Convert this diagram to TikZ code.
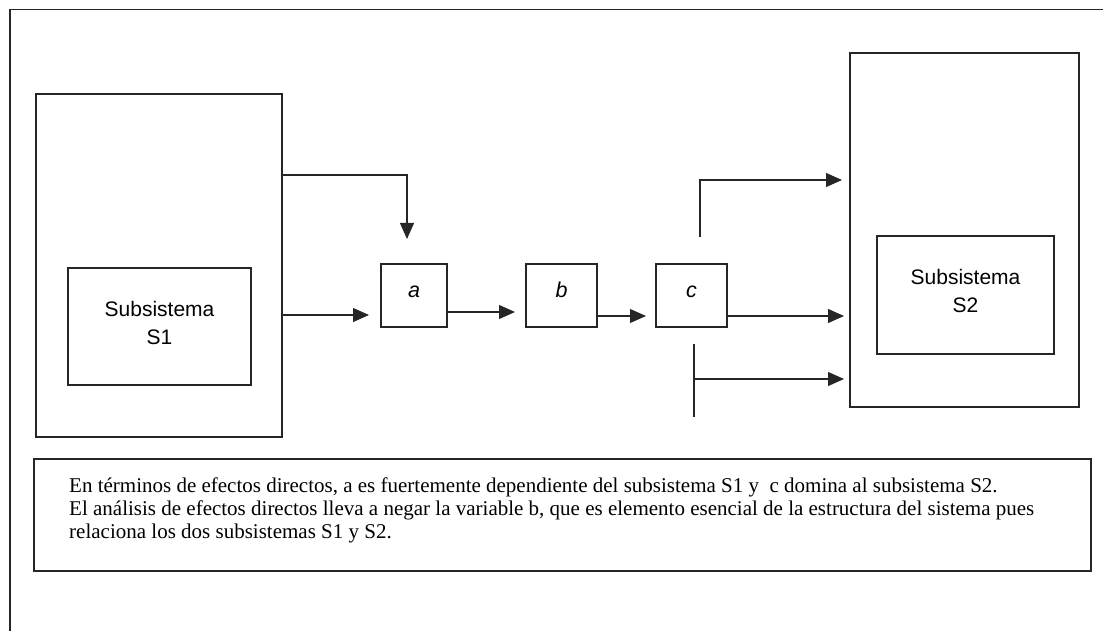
\documentclass[tikz,border=0pt]{standalone}
\usepackage{fontspec}
\setmainfont{Liberation Serif}
\newfontfamily\arialf{Liberation Sans}
\usetikzlibrary{arrows.meta,calc}
\begin{document}
\begin{tikzpicture}[x=1pt,y=-1pt,
  ln/.style={line width=1.1pt, draw=black!85},
  box/.style={ln, rectangle, inner sep=0pt, outer sep=0pt, align=center,
    font=\arialf\fontsize{21}{28}\selectfont},
  subbox/.style={box, text depth=8pt},
  varbox/.style={box, font=\arialf\itshape\fontsize{21.5}{25}\selectfont, text height=10pt, text depth=7pt},
  arr/.style={ln, -{Triangle[length=16pt,width=14pt]}},
  note/.style={anchor=north west, inner sep=0pt, align=left,
    font=\fontsize{21}{23}\selectfont},
]
\useasboundingbox (0,0) rectangle (1103,631);
% outer frame
\coordinate (fbl) at (10,631);
\coordinate (ftl) at (10,9.5);
\coordinate (ftr) at (1103,9.5);
\draw[ln] (fbl) -- (ftl) -- (ftr);

\node[box, minimum width=246pt, minimum height=343pt] (S1big) at (159,265.5) {};
\node[subbox, minimum width=183pt, minimum height=117pt] (S1in) at (159.5,326.5) {Subsistema\\S1};
\node[varbox, minimum width=66pt, minimum height=63pt] (a) at (414,295.5) {a};
\node[varbox, minimum width=71pt, minimum height=63pt] (b) at (561.5,295.5) {b};
\node[varbox, minimum width=71pt, minimum height=63pt] (c) at (691.5,295.5) {c};
\node[box, minimum width=229pt, minimum height=354pt] (S2big) at (964.5,230) {};
\node[subbox, minimum width=177pt, minimum height=118pt] (S2in) at (965.5,295) {Subsistema\\S2};
\node[box, minimum width=1057pt, minimum height=112pt] (notebox) at (562.5,515) {};

% arrows
\coordinate (k1) at (0,175);
\coordinate (atip) at (407,239);
\draw[arr] (S1big.east |- k1) -| (atip);
\coordinate (k2) at (0,315);
\draw[arr] (S1big.east |- k2) -- ($(a.west |- k2)+(-12,0)$);
\coordinate (k3) at (0,312);
\draw[arr] (a.east |- k3) -- ($(b.west |- k3)+(-11,0)$);
\coordinate (k4) at (0,316);
\draw[arr] (b.east |- k4) -- ($(c.west |- k4)+(-10,0)$);
\draw[arr] (c.east |- k4) -- ($(S2big.west |- k4)+(-6,0)$);
\coordinate (t0) at (700,237);
\coordinate (k5) at (0,180);
\draw[arr] (t0) |- ($(S2big.west |- k5)+(-8,0)$);
\coordinate (u0) at (694,344);
\coordinate (u1) at (694,417);
\coordinate (u2) at (694,379);
\draw[ln] (u0) -- (u1);
\draw[arr] (u2) -- ($(S2big.west |- u2)+(-6,0)$);

\node[note] (notetext) at ($(notebox.north west)+(35,18)$)
  {\rule{0pt}{15pt}En términos de efectos directos, a es fuertemente dependiente del subsistema S1 y\ \ c domina al subsistema S2.\\
   El análisis de efectos directos lleva a negar la variable b, que es elemento esencial de la estructura del sistema pues\\
   relaciona los dos subsistemas S1 y S2.};
\end{tikzpicture}
\end{document}
